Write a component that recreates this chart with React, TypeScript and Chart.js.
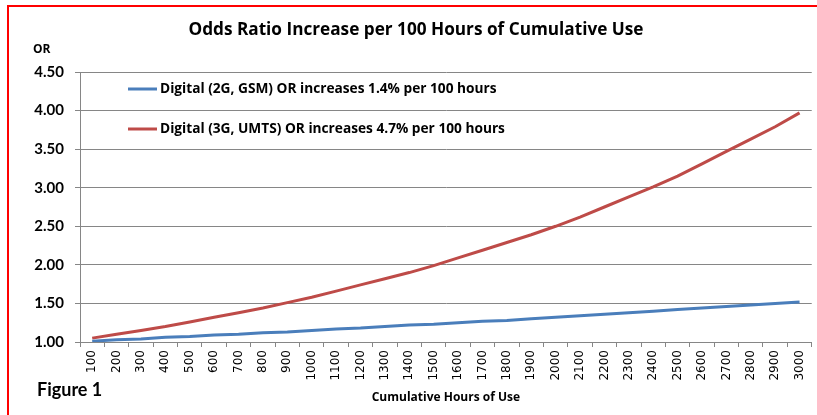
import React, { useEffect, useRef } from "react";
import { Chart, registerables } from "chart.js";

Chart.register(...registerables);

const chartTitle = "Odds Ratio Increase per 100 Hours of Cumulative Use";
const yAxisTitle = "OR";
const xAxisTitle = "Cumulative Hours of Use";
const figureLabel = "Figure 1";

const categories = [
  "100", "200", "300", "400", "500", "600", "700", "800", "900", "1000",
  "1100", "1200", "1300", "1400", "1500", "1600", "1700", "1800", "1900", "2000",
  "2100", "2200", "2300", "2400", "2500", "2600", "2700", "2800", "2900", "3000",
];

const gsmLabel = "Digital (2G, GSM) OR increases 1.4% per 100 hours";
const gsmValues = [
  1.01, 1.03, 1.04, 1.06, 1.07, 1.09, 1.10, 1.12, 1.13, 1.15,
  1.17, 1.18, 1.20, 1.22, 1.23, 1.25, 1.27, 1.28, 1.30, 1.32,
  1.34, 1.36, 1.38, 1.40, 1.42, 1.44, 1.46, 1.48, 1.50, 1.52,
];

const umtsLabel = "Digital (3G, UMTS) OR increases 4.7% per 100 hours";
const umtsValues = [
  1.05, 1.10, 1.15, 1.20, 1.26, 1.32, 1.38, 1.44, 1.51, 1.58,
  1.66, 1.74, 1.82, 1.90, 1.99, 2.09, 2.19, 2.29, 2.39, 2.50,
  2.62, 2.75, 2.88, 3.01, 3.15, 3.31, 3.47, 3.63, 3.79, 3.97,
];

const yMin = 1.0;
const yMax = 4.5;
const yStep = 0.5;

const BLUE = "#4a7ebb";
const RED = "#be4b48";
const GRID = "#868686";
const FONT = "Lato, 'Open Sans', sans-serif";
const WIDE = "'Open Sans', Lato, sans-serif";

export default function App() {
  const canvasRef = useRef<HTMLCanvasElement | null>(null);

  useEffect(() => {
    const canvas = canvasRef.current;
    if (!canvas) return;

    const overlay = {
      id: "overlay",
      afterDraw(chart: any) {
        const ctx = chart.ctx;
        const area = chart.chartArea;
        ctx.save();
        ctx.fillStyle = "#000";
        // title
        ctx.font = `bold 17.2px ${WIDE}`;
        ctx.textAlign = "center";
        ctx.textBaseline = "middle";
        ctx.fillText(chartTitle, 416, 30);
        // y axis title
        ctx.font = `bold 12px ${WIDE}`;
        ctx.textAlign = "left";
        ctx.fillText(yAxisTitle, 33, 50);
        // x axis title
        ctx.font = `bold 12px ${WIDE}`;
        ctx.textAlign = "center";
        ctx.fillText(xAxisTitle, (area.left + area.right) / 2, 398);
        // figure label
        ctx.font = `bold 18px ${FONT}`;
        ctx.textAlign = "left";
        ctx.fillText(figureLabel, 37, 390);
        // legend
        const items = chart.data.datasets;
        const ys = [89, 129];
        items.forEach((ds: any, i: number) => {
          const y = ys[i];
          ctx.strokeStyle = ds.borderColor;
          ctx.lineWidth = 3;
          ctx.beginPath();
          ctx.moveTo(128, y);
          ctx.lineTo(157, y);
          ctx.stroke();
          ctx.fillStyle = "#000";
          ctx.font = `bold 13.7px ${WIDE}`;
          ctx.textAlign = "left";
          ctx.textBaseline = "middle";
          ctx.fillText(ds.label, 160, y);
        });
        ctx.restore();
      },
    };

    const chart = new Chart(canvas, {
      type: "line",
      data: {
        labels: categories,
        datasets: [
          {
            label: gsmLabel,
            data: gsmValues,
            borderColor: BLUE,
            backgroundColor: BLUE,
            borderWidth: 3,
            pointRadius: 0,
            tension: 0,
          },
          {
            label: umtsLabel,
            data: umtsValues,
            borderColor: RED,
            backgroundColor: RED,
            borderWidth: 3,
            pointRadius: 0,
            tension: 0,
          },
        ],
      },
      options: {
        animation: false,
        responsive: false,
        maintainAspectRatio: false,
        layout: { padding: { left: 0, top: 72, right: 3, bottom: 0 } },
        plugins: {
          legend: { display: false },
          title: { display: false },
          tooltip: { enabled: false },
        },
        scales: {
          x: {
            type: "category",
            offset: true,
            afterFit: (scale: any) => {
              scale.height = 73;
            },
            grid: {
              drawOnChartArea: false,
              drawTicks: true,
              tickLength: 5,
              offset: true,
              color: GRID,
            },
            border: { display: true, color: GRID, width: 1 },
            ticks: {
              autoSkip: false,
              maxRotation: 90,
              minRotation: 90,
              padding: 3,
              color: "#000",
              font: { family: "'DejaVu Sans', sans-serif", size: 12 },
            },
          },
          y: {
            min: yMin,
            max: yMax,
            afterFit: (scale: any) => {
              scale.width = 80;
            },
            grid: {
              color: GRID,
              lineWidth: 1,
              tickLength: 5,
              drawTicks: true,
            },
            border: { display: true, color: GRID, width: 1 },
            ticks: {
              stepSize: yStep,
              padding: 11,
              color: "#000",
              font: { family: FONT, size: 15, weight: "bold" },
              callback: (v: any) => Number(v).toFixed(2),
            },
          },
        },
      },
      plugins: [overlay],
    });

    return () => chart.destroy();
  }, []);

  return (
    <div style={{ position: "fixed", left: 0, top: 0, width: 817, height: 415, background: "#fff", overflow: "hidden" }}>
      <canvas ref={canvasRef} width={817} height={415} style={{ position: "absolute", left: 0, top: 0, width: 817, height: 415 }} />
      <div
        style={{
          position: "absolute",
          left: 7,
          top: 5,
          width: 900,
          height: 500,
          border: "2px solid #ff0000",
          pointerEvents: "none",
        }}
      />
    </div>
  );
}
